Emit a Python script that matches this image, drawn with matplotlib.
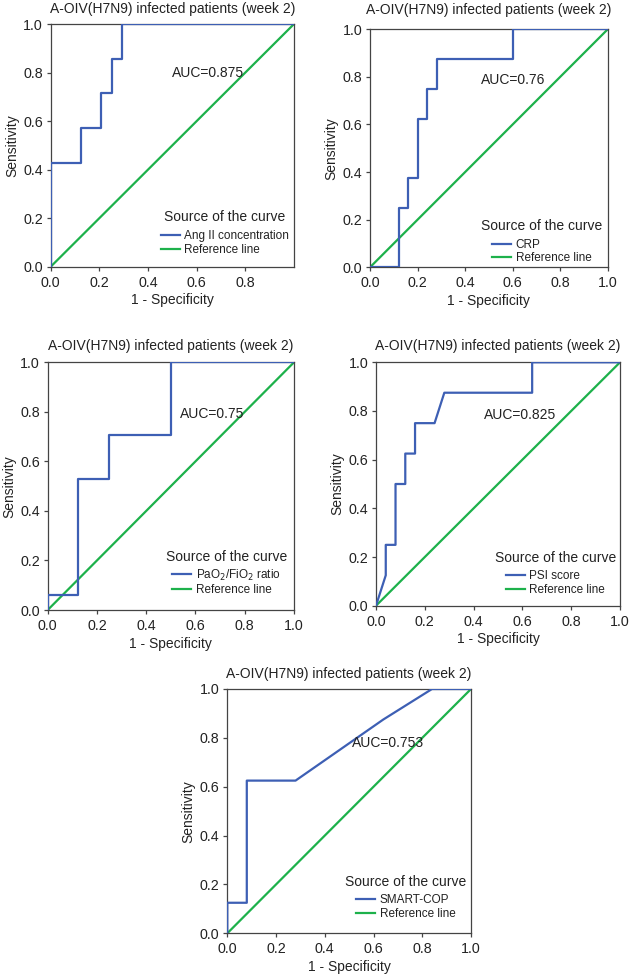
import matplotlib
matplotlib.use("Agg")
import matplotlib.pyplot as plt

plt.rcParams['font.family'] = ['Liberation Sans', 'DejaVu Sans']

title = "A-OIV(H7N9) infected patients (week 2)"

# ROC curves
ang_x = [0, 0, 0.125, 0.125, 0.208, 0.208, 0.25, 0.25, 0.292, 0.292, 1.0]
ang_y = [0, 0.429, 0.429, 0.571, 0.571, 0.714, 0.714, 0.857, 0.857, 1.0, 1.0]

crp_x = [0, 0.12, 0.12, 0.16, 0.16, 0.2, 0.2, 0.24, 0.24, 0.28, 0.28, 0.6, 0.6, 1.0]
crp_y = [0, 0, 0.25, 0.25, 0.375, 0.375, 0.625, 0.625, 0.75, 0.75, 0.875, 0.875, 1.0, 1.0]

pao_x = [0, 0, 0.125, 0.125, 0.25, 0.25, 0.5, 0.5, 1.0]
pao_y = [0, 0.059, 0.059, 0.529, 0.529, 0.706, 0.706, 1.0, 1.0]

psi_x = [0, 0.04, 0.04, 0.08, 0.08, 0.12, 0.12, 0.16, 0.16, 0.24, 0.28, 0.64, 0.64, 1.0]
psi_y = [0, 0.125, 0.25, 0.25, 0.5, 0.5, 0.625, 0.625, 0.75, 0.75, 0.875, 0.875, 1.0, 1.0]

smart_x = [0, 0, 0.08, 0.08, 0.28, 0.64, 0.84, 1.0]
smart_y = [0, 0.125, 0.125, 0.625, 0.625, 0.875, 1.0, 1.0]

names = ["Ang II concentration", "CRP", r"PaO$_2$/FiO$_2$ ratio", "PSI score", "SMART-COP"]
aucs = ["AUC=0.875", "AUC=0.76", "AUC=0.75", "AUC=0.825", "AUC=0.753"]
auc_pos = [(0.50, 0.80), (0.467, 0.787), (0.537, 0.79), (0.443, 0.784), (0.51, 0.778)]
curves = [(ang_x, ang_y), (crp_x, crp_y), (pao_x, pao_y), (psi_x, psi_y), (smart_x, smart_y)]

# axes boxes in pixels: left, top, right, bottom
boxes = [(50.7, 24, 294, 266.7), (370, 29.3, 607.7, 267.3),
         (47.7, 362.3, 294, 610), (376, 362.3, 620, 605.7),
         (227.3, 689, 471, 933.3)]
leg_anchor = [(0.98, 0.045), (0.977, 0.012), (0.972, 0.055), (0.984, 0.04), (0.982, 0.055)]
leg_sep = [4, 4, 2.5, 4, 4]
title_pad = [7.8, 11, 8.5, 8.5, 8]

W, H = 630, 974
fig = plt.figure(figsize=(W / 100, H / 100), dpi=100)

blue = "#3d5fb4"
green = "#1db14b"
ink = "#222222"

for i, (box, (cx, cy)) in enumerate(zip(boxes, curves)):
    l, t, r, b = box
    ax = fig.add_axes([l / W, (H - b) / H, (r - l) / W, (b - t) / H])
    ax.plot(cx, cy, color=blue, lw=1.6, label=names[i], zorder=3)
    ax.plot([0, 1], [0, 1], color=green, lw=1.6, label="Reference line", zorder=2)
    ax.set_xlim(0, 1)
    ax.set_ylim(0, 1)
    if i == 0:
        ax.set_xticks([0, 0.2, 0.4, 0.6, 0.8])
    else:
        ax.set_xticks([0, 0.2, 0.4, 0.6, 0.8, 1.0])
    ax.set_yticks([0, 0.2, 0.4, 0.6, 0.8, 1.0])
    ax.xaxis.set_major_formatter(matplotlib.ticker.FormatStrFormatter('%.1f'))
    ax.yaxis.set_major_formatter(matplotlib.ticker.FormatStrFormatter('%.1f'))
    ax.tick_params(labelsize=10.3, length=3, width=0.9, color="#444444",
                   labelcolor=ink)
    ax.tick_params(axis="x", pad=3.6)
    ax.tick_params(axis="y", pad=2.6)
    for s in ax.spines.values():
        s.set_color("#444444")
        s.set_linewidth(0.9)
    ax.set_xlabel("1 - Specificity", fontsize=10, color=ink, labelpad=2.5)
    ax.set_ylabel("Sensitivity", fontsize=10, color=ink, labelpad=3)
    ax.set_title(title, fontsize=10, color=ink, pad=title_pad[i])
    ax.text(auc_pos[i][0], auc_pos[i][1], aucs[i], fontsize=10, color=ink,
            va="center", ha="left", zorder=4)
    leg = ax.legend(loc="lower right", bbox_to_anchor=leg_anchor[i],
                    frameon=False, title="Source of the curve",
                    fontsize=8.5, title_fontsize=10, handlelength=1.6,
                    handletextpad=0.4, labelspacing=0.15, borderaxespad=0,
                    borderpad=0)
    leg._legend_box.sep = leg_sep[i]
    leg.get_title().set_color(ink)
    for txt in leg.get_texts():
        txt.set_color(ink)

fig.savefig("out.png", dpi=100)
